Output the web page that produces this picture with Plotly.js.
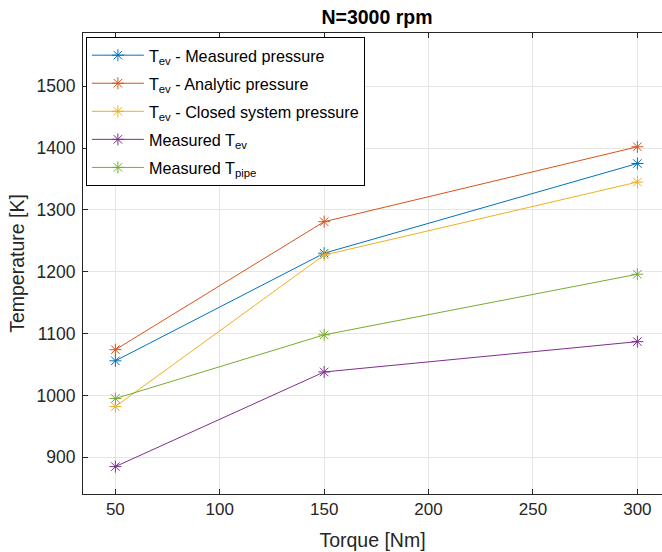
<!DOCTYPE html>
<html>
<head>
<meta charset="utf-8">
<script src="https://cdn.plot.ly/plotly-3.0.1.min.js"></script>
<style>html,body{margin:0;padding:0;background:#fff;}#chart{width:662px;height:552px;}</style>
</head>
<body>
<div id="chart"></div>
<script>
const torque = [50, 150, 300];
const tevMeasuredPressure = [1056, 1230, 1375];
const tevAnalyticPressure = [1074, 1281, 1402];
const tevClosedSystemPressure = [982, 1227, 1345];
const measuredTev = [885, 1038, 1087];
const measuredTpipe = [995, 1098, 1196];
const seriesNames = [
  'T<sub>ev</sub> - Measured pressure',
  'T<sub>ev</sub> - Analytic pressure',
  'T<sub>ev</sub> - Closed system pressure',
  'Measured T<sub>ev</sub>',
  'Measured T<sub>pipe</sub>'
];
const seriesColors = ['#0072BD', '#D95319', '#EDB120', '#7E2F8E', '#77AC30'];
const xTicks = [50, 100, 150, 200, 250, 300];
const yTicks = [900, 1000, 1100, 1200, 1300, 1400, 1500];

const seriesValues = [tevMeasuredPressure, tevAnalyticPressure, tevClosedSystemPressure, measuredTev, measuredTpipe];
const traces = seriesValues.map((vals, i) => ({
  x: torque,
  y: vals,
  name: seriesNames[i],
  legendgroup: 'g' + i,
  type: 'scatter',
  mode: 'lines+markers',
  line: {color: seriesColors[i], width: 1},
  marker: {symbol: 'asterisk-open', size: 10, color: seriesColors[i], line: {color: seriesColors[i], width: 1}}
}));

const fontFam = '"Liberation Sans", Arial, Helvetica, sans-serif';
const layout = {
  width: 662, height: 552,
  margin: {l: 83, r: 0, t: 33, b: 58, pad: 0},
  paper_bgcolor: '#ffffff', plot_bgcolor: '#ffffff',
  font: {family: fontFam, color: '#262626', size: 17},
  title: {text: '<b>N=3000 rpm</b>', x: 0.5695, xanchor: 'center', y: 0.968, yanchor: 'middle', font: {family: fontFam, size: 19.5, color: '#000000'}},
  xaxis: {
    range: [34.5, 311.8], tickvals: xTicks, ticktext: xTicks.map(String),
    showgrid: true, gridcolor: '#e5e5e5', gridwidth: 1, zeroline: false,
    showline: true, linecolor: '#262626', linewidth: 1, mirror: 'ticks',
    ticks: 'inside', ticklen: 5, tickcolor: '#262626',
    tickfont: {size: 17, color: '#262626'},
    title: {text: 'Torque [Nm]', font: {size: 19.5, color: '#262626'}, standoff: 14}
  },
  yaxis: {
    range: [840.7, 1586], tickvals: yTicks, ticktext: yTicks.map(String),
    showgrid: true, gridcolor: '#e5e5e5', gridwidth: 1, zeroline: false,
    showline: true, linecolor: '#262626', linewidth: 1,
    ticks: 'inside', ticklen: 5, tickcolor: '#262626',
    tickfont: {size: 17.5, color: '#262626'},
    ticklabelstandoff: 3,
    title: {text: 'Temperature [K]', font: {size: 19.5, color: '#262626'}, standoff: 6}
  },
  showlegend: true,
  legend: {
    x: 0.005, y: 0.991, xanchor: 'left', yanchor: 'top',
    bgcolor: '#ffffff', bordercolor: '#000000', borderwidth: 1,
    font: {family: fontFam, size: 16.2, color: '#000000'},
    traceorder: 'grouped', tracegroupgap: 4, itemwidth: 52
  }
};

Plotly.newPlot('chart', traces, layout, {displayModeBar: false, staticPlot: true});
</script>
</body>
</html>
